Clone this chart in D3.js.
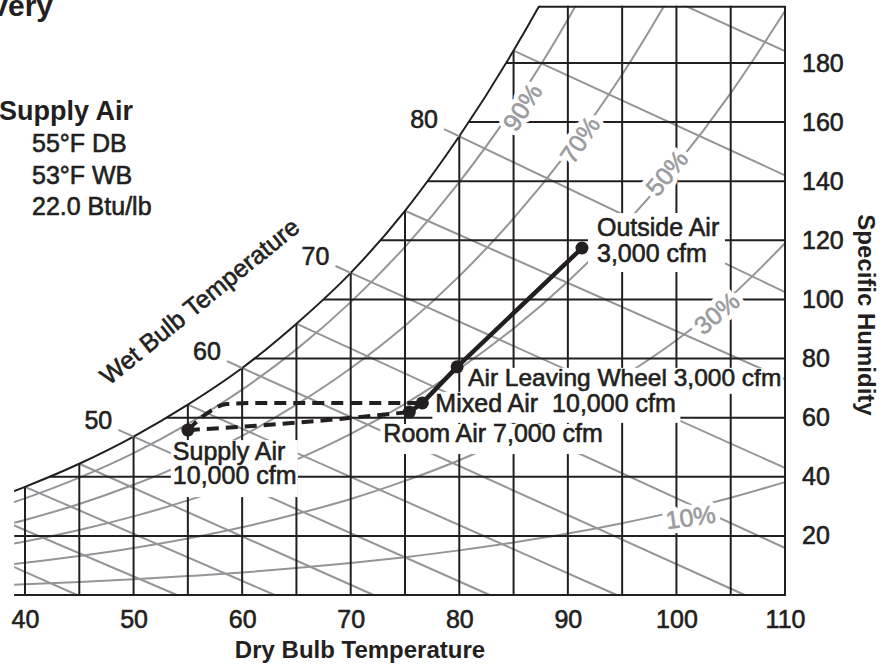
<!DOCTYPE html>
<html>
<head>
<meta charset="utf-8">
<script src="https://cdn.jsdelivr.net/npm/d3@7"></script>
<style>
  html, body { margin: 0; padding: 0; background: #fff; }
  svg { display: block; font-family: "Liberation Sans", Arial, Helvetica, sans-serif; }
  .med { stroke: #231f20; stroke-width: 0.6px; }
</style>
</head>
<body>
<svg id="chart" width="893" height="665"></svg>
<script>
// ---- Axis ticks: dry-bulb temperature (°F) and specific humidity (grains/lb dry air)
const dbTicks = [40, 50, 60, 70, 80, 90, 100, 110];
const dbGrid = [40, 45, 50, 55, 60, 65, 70, 75, 80, 85, 90, 95, 100, 105];
const grTicks = [20, 40, 60, 80, 100, 120, 140, 160, 180];

// ---- Saturation (100% RH) curve
const satDb = [30, 35, 40, 45, 50, 55, 60, 65, 70, 75, 80, 85, 90, 95];
const satGr = [24.1, 29.8, 36.6, 44.4, 53.6, 64.4, 76.8, 91.8, 109.0, 130.0, 155.2, 184.2, 217.4, 256.0];

// ---- Relative humidity curves
const rhDb = [35, 40, 45, 50, 55, 60, 65, 70, 75, 80, 85, 90, 95, 100, 105, 110];
const rh10 = [3.0, 3.6, 4.4, 5.3, 6.4, 7.6, 9.1, 10.8, 12.8, 15.1, 17.8, 20.8, 24.3, 28.3, 32.9, 38.2];
const rh30 = [8.9, 10.9, 13.2, 15.9, 19.1, 22.9, 27.4, 32.5, 38.6, 45.6, 53.7, 63.0, 73.8, 86.2, 101.0, 119.0];
const rh50 = [14.9, 18.1, 22.0, 26.6, 32.0, 38.3, 45.8, 54.5, 64.7, 76.5, 90.2, 106.1, 124.4, 145.5, 169.8, 197.6];
const rh70 = [20.8, 25.4, 30.8, 37.3, 44.9, 53.8, 64.4, 76.7, 91.1, 107.9, 127.4, 150.0, 176.1, 206.5, 240, 280];
const rh90 = [26.8, 32.7, 39.7, 48.0, 57.9, 69.5, 83.1, 99.1, 117.8, 139.7, 165.1, 194.7, 229.1, 268, 310, 360];
const rhSeries = [rh10, rh30, rh50, rh70, rh90];

// RH curve captions
const rhLabels = ["10%", "30%", "50%", "70%", "90%"];
const rhLabelDb = [101.3, 103.7, 99.1, 91.1, 85.8];
const rhLabelGr = [26.4, 95.4, 142.8, 154.0, 165.1];
const rhLabelAngle = [-8, -40, -50, -56, -57];

// ---- Wet-bulb lines: start on the saturation curve, run down to the right
const wbTemps = [30, 35, 40, 45, 50, 55, 60, 65, 70, 75, 80, 85, 90];
const wbStartGr = [24.1, 29.8, 36.6, 44.4, 53.6, 64.4, 76.8, 91.8, 109.0, 130.0, 155.2, 184.2, 217.4];
const wbEndDb = [44.8, 54.0, 63.0, 72.1, 82.8, 94.5, 106.3, 110, 110, 110, 110, 110, 110];
const wbEndGr = [0, 0, 0, 0, 0, 0, 0, 15.9, 43.0, 73.0, 102.5, 142.0, 184.0];
const wbLabeled = [50, 60, 70, 80];

// ---- Air states of the energy recovery process
const stateNames = ["Outside Air", "Air Leaving Wheel", "Mixed Air", "Room Air", "Supply Air"];
const stateDb = [91.3, 79.8, 76.6, 75.4, 55.0];
const stateGr = [117.4, 77.2, 65.0, 61.9, 55.8];
const stateCaptions = [
  ["Outside Air", "3,000 cfm"],
  ["Air Leaving Wheel 3,000 cfm"],
  ["Mixed Air  10,000 cfm"],
  ["Room Air 7,000 cfm"],
  ["Supply Air", "10,000 cfm"]
];

// Cooling coil path (mixed air -> supply air) and room load line (supply -> room)
const coilDb = [55.0, 56.6, 58.6, 62.0, 76.6];
const coilGr = [55.8, 61.0, 64.6, 65.0, 65.0];
const loadDb = [55.0, 65.0, 75.4];
const loadGr = [55.8, 58.3, 61.9];

// Supply air design conditions
const supplyTitle = "Supply Air";
const supplyLines = ["55°F DB", "53°F WB", "22.0 Btu/lb"];

// ---------------------------------------------------------------
const INK = "#231f20";
const GRAY = "#939598";
const dbMin = 39, dbMax = 110, grMax = 199;

const svg = d3.select("#chart");
const defs = svg.append("defs");

const x = d3.scaleLinear().domain([40, 110]).range([25, 785]);
const y = d3.scaleLinear().domain([0, 180]).range([595, 63]);

const sat = satDb.map((d, i) => ({ db: d, gr: satGr[i] }));

// Clip regions: chart frame and the area below the saturation curve
defs.append("clipPath").attr("id", "frame").append("rect")
  .attr("x", x(dbMin)).attr("y", y(grMax) - 1)
  .attr("width", x(dbMax) - x(dbMin) + 1).attr("height", y(0) - y(grMax) + 2);

const underSat = d3.area()
  .x(d => x(d.db)).y0(y(0) + 10).y1(d => y(d.gr))
  .curve(d3.curveMonotoneX);
const satClip = defs.append("clipPath").attr("id", "undersat");
satClip.append("path").attr("d", underSat(sat));
// beyond 90 °F the saturation curve lies above the chart: keep everything there
satClip.append("rect")
  .attr("x", x(90)).attr("y", y(grMax) - 20)
  .attr("width", x(dbMax) - x(90) + 20).attr("height", y(0) - y(grMax) + 40);

const plot = svg.append("g").attr("clip-path", "url(#frame)")
  .append("g").attr("clip-path", "url(#undersat)");

// Wet-bulb lines
const wb = wbTemps.map((t, i) => ({ t, x1: t, y1: wbStartGr[i], x2: wbEndDb[i], y2: wbEndGr[i] }));
plot.append("g").selectAll("line").data(wb).join("line")
  .attr("x1", d => x(d.x1)).attr("y1", d => y(d.y1))
  .attr("x2", d => x(d.x2)).attr("y2", d => y(d.y2))
  .attr("stroke", GRAY).attr("stroke-width", 2);

// Relative humidity curves
const rhLine = d3.line().x((d, i) => x(rhDb[i])).y(d => y(d)).curve(d3.curveMonotoneX);
plot.append("g").selectAll("path").data(rhSeries).join("path")
  .attr("d", rhLine).attr("fill", "none").attr("stroke", GRAY).attr("stroke-width", 2);

// Black grid
plot.append("g").selectAll("line").data(dbGrid).join("line")
  .attr("x1", d => x(d)).attr("x2", d => x(d))
  .attr("y1", y(0)).attr("y2", y(grMax) - 5)
  .attr("stroke", INK).attr("stroke-width", 2);
plot.append("g").selectAll("line").data(grTicks).join("line")
  .attr("x1", x(dbMin)).attr("x2", x(dbMax))
  .attr("y1", d => y(d)).attr("y2", d => y(d))
  .attr("stroke", INK).attr("stroke-width", 2);

// Top border, cut off by the saturation curve
svg.append("g").attr("clip-path", "url(#undersat)").append("line")
  .attr("x1", x(dbMin)).attr("x2", x(dbMax) + 1)
  .attr("y1", y(grMax)).attr("y2", y(grMax))
  .attr("stroke", INK).attr("stroke-width", 2);

// Bottom and right borders
svg.append("path")
  .attr("d", `M${x(dbMin)},${y(0)}H${x(dbMax)}V${y(grMax)}`)
  .attr("fill", "none").attr("stroke", INK).attr("stroke-width", 2);

// Saturation curve
svg.append("g").attr("clip-path", "url(#frame)").append("path")
  .attr("d", d3.line().x(d => x(d.db)).y(d => y(d.gr)).curve(d3.curveMonotoneX)(sat))
  .attr("fill", "none").attr("stroke", INK).attr("stroke-width", 2);

// Wet-bulb lines carried past the curve to their temperature labels
const ext = 1.4;
const wbLab = wb.filter(d => wbLabeled.includes(d.t)).map(d => {
  const slope = (d.y2 - d.y1) / (d.x2 - d.x1);
  return { t: d.t, sx: d.x1 - ext, sy: d.y1 - slope * ext, ex: d.x1, ey: d.y1 };
});
svg.append("g").selectAll("line").data(wbLab).join("line")
  .attr("x1", d => x(d.sx)).attr("y1", d => y(d.sy))
  .attr("x2", d => x(d.ex)).attr("y2", d => y(d.ey))
  .attr("stroke", GRAY).attr("stroke-width", 2);
svg.append("g").selectAll("text").data(wbLab).join("text")
  .attr("class", "med")
  .attr("x", d => x(d.sx) - 20).attr("y", d => y(d.sy) - 1)
  .attr("text-anchor", "middle").attr("font-size", 25).attr("fill", INK)
  .text(d => d.t);

// RH captions with a white knock-out
const rhLab = rhLabels.map((l, i) => ({ l, db: rhLabelDb[i], gr: rhLabelGr[i], a: rhLabelAngle[i] }));
const rhG = svg.append("g").selectAll("g").data(rhLab).join("g")
  .attr("transform", d => `translate(${x(d.db)},${y(d.gr)}) rotate(${d.a})`);
rhG.append("text")
  .attr("text-anchor", "middle").attr("dy", "0.36em")
  .attr("font-size", 25).attr("fill", "#fff")
  .attr("stroke", "#fff").attr("stroke-width", 10).attr("stroke-linejoin", "round")
  .text(d => d.l);
rhG.append("text")
  .attr("text-anchor", "middle").attr("dy", "0.36em")
  .attr("font-size", 25).attr("fill", "#999b9e")
  .attr("stroke", "#999b9e").attr("stroke-width", 0.6)
  .text(d => d.l);

// Caption boxes for the air states (offsets in px from each state point)
const capLayout = [
  { bx: 6, by: -35, bw: 137, bh: 59, tx: 15, ty: [-12, 14], fs: 25 },
  { bx: 9, by: 1, bw: 317, bh: 26, tx: 11, ty: [19], fs: 24.5 },
  { bx: 10, by: -11, bw: 248, bh: 31, tx: 13, ty: [9], fs: 25 },
  { bx: -29, by: 12, bw: 227, bh: 30, tx: -26, ty: [30], fs: 25 },
  { bx: -17, by: 10, bw: 127, bh: 57, tx: -15, ty: [30, 54], fs: 25 }
];
const states = stateNames.map((n, i) => ({ n, db: stateDb[i], gr: stateGr[i], cap: stateCaptions[i], L: capLayout[i] }));

const capG = svg.append("g").selectAll("g").data(states).join("g")
  .attr("transform", d => `translate(${x(d.db)},${y(d.gr)})`);
capG.append("rect")
  .attr("x", d => d.L.bx).attr("y", d => d.L.by)
  .attr("width", d => d.L.bw).attr("height", d => d.L.bh)
  .attr("fill", "#fff");
capG.each(function (d) {
  const g = d3.select(this);
  d.cap.forEach((line, k) => {
    g.append("text").attr("class", "med")
      .attr("x", d.L.tx).attr("y", d.L.ty[k])
      .attr("font-size", d.L.fs).attr("fill", INK)
      .style("white-space", "pre")
      .text(line);
  });
});

// Process lines
const pline = d3.line().x(d => x(d[0])).y(d => y(d[1]));
svg.append("path")
  .attr("d", pline.curve(d3.curveMonotoneX)(coilDb.map((d, i) => [d, coilGr[i]])))
  .attr("fill", "none").attr("stroke", INK).attr("stroke-width", 4)
  .attr("stroke-dasharray", "12,7");
svg.append("path")
  .attr("d", pline.curve(d3.curveMonotoneX)(loadDb.map((d, i) => [d, loadGr[i]])))
  .attr("fill", "none").attr("stroke", INK).attr("stroke-width", 4)
  .attr("stroke-dasharray", "12,7");
const solidIdx = [0, 1, 2, 3];
svg.append("path")
  .attr("d", d3.line().x(i => x(stateDb[i])).y(i => y(stateGr[i]))(solidIdx))
  .attr("fill", "none").attr("stroke", INK).attr("stroke-width", 4.5)
  .attr("stroke-linejoin", "round");
svg.append("g").selectAll("circle").data(states).join("circle")
  .attr("cx", d => x(d.db)).attr("cy", d => y(d.gr)).attr("r", 6.5)
  .attr("fill", INK);

// Axes: tick labels only
const axB = svg.append("g").attr("transform", `translate(0,${y(0)})`)
  .call(d3.axisBottom(x).tickValues(dbTicks).tickSize(0).tickPadding(15));
const axR = svg.append("g").attr("transform", `translate(${x(dbMax)},0)`)
  .call(d3.axisRight(y).tickValues(grTicks).tickSize(0).tickPadding(17));
[axB, axR].forEach(a => {
  a.select(".domain").remove();
  a.attr("font-size", 25).attr("font-family", null);
  a.selectAll("text").attr("fill", INK).attr("class", "med");
});

// Axis titles
svg.append("text").attr("x", 360).attr("y", 658)
  .attr("text-anchor", "middle").attr("font-size", 24).attr("font-weight", "bold")
  .attr("fill", INK).text("Dry Bulb Temperature");
svg.append("text").attr("transform", "translate(858,315) rotate(90)")
  .attr("text-anchor", "middle").attr("font-size", 24).attr("font-weight", "bold")
  .attr("fill", INK).text("Specific Humidity");
svg.append("text").attr("class", "med").attr("transform", "translate(205,308) rotate(-39)")
  .attr("text-anchor", "middle").attr("font-size", 25)
  .attr("fill", INK).text("Wet Bulb Temperature");

// Title and supply air conditions
svg.append("text").attr("x", 53).attr("y", 16).attr("text-anchor", "end")
  .attr("font-size", 30).attr("font-weight", "bold").attr("fill", INK)
  .text("Energy Recovery");
svg.append("text").attr("x", -1).attr("y", 120)
  .attr("font-size", 27).attr("font-weight", "bold").attr("fill", INK)
  .text(supplyTitle);
svg.append("g").selectAll("text").data(supplyLines).join("text")
  .attr("class", "med")
  .attr("x", 32).attr("y", (d, i) => 152 + i * 31.5)
  .attr("font-size", 25).attr("fill", INK)
  .text(d => d);
</script>
</body>
</html>
